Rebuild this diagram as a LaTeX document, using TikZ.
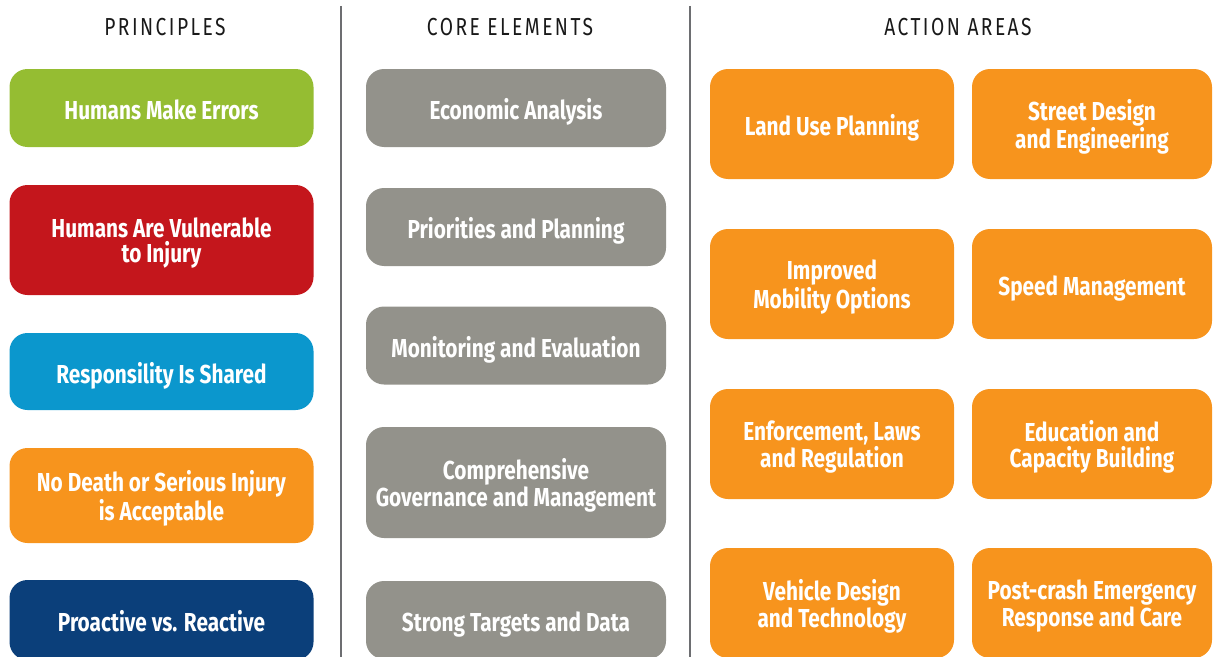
\documentclass[tikz,border=0pt]{standalone}
\usepackage{fontspec}
\setmainfont{Fira Sans}
\newfontfamily\boxfont{Fira Sans}[FakeStretch=0.8]
\newfontfamily\headfont{Fira Sans}[FakeStretch=0.78,LetterSpace=10]
\usepackage{xcolor}

\definecolor{errgreen}{HTML}{95BD32}
\definecolor{injred}{HTML}{C4161C}
\definecolor{sharedblue}{HTML}{0B97CD}
\definecolor{actorange}{HTML}{F7941D}
\definecolor{proactnavy}{HTML}{0B3F7A}
\definecolor{coregray}{HTML}{93928B}
\definecolor{rulegray}{HTML}{6D6E71}

\tikzset{
  tile/.style={rounded corners=0.45cm, inner sep=0pt, align=center, text=white,
    font=\boxfont\bfseries\fontsize{18.5}{18}\selectfont,
    text depth=0pt, execute at begin node={\rule{0pt}{16.6pt}}},
  ptile/.style={tile, minimum width=7.6cm},
  ctile/.style={tile, fill=coregray, minimum width=7.5cm},
  atile/.style={tile, fill=actorange, minimum height=2.75cm},
  colhead/.style={text=black!90, font=\headfont\fontsize{17.5}{18}\selectfont},
  divider/.style={draw=rulegray, line width=0.05cm}
}

\begin{document}
\begin{tikzpicture}
  \clip (0,0) rectangle (30.325,-16.425);

  % Column heads
  \node (hprin) at (4.125,-0.675) [colhead] {PRINCIPLES};
  \node (hcore) at (12.75,-0.675) [colhead] {CORE ELEMENTS};
  \node (hact) at (23.95,-0.675) [colhead] {ACTION AREAS};

  % Dividers
  \draw[divider] (8.525,-0.15) -- (8.525,-16.5);
  \draw[divider] (17.2375,-0.15) -- (17.2375,-16.5);

  % Principles
  \node (p1) at (4.0375,-2.7) [ptile, fill=errgreen, minimum height=1.95cm] {Humans Make Errors};
  \node (p2) at (4.0375,-6.0) [ptile, fill=injred, minimum height=2.75cm] {Humans Are Vulnerable\\to Injury};
  \node (p3) at (4.0375,-9.2875) [ptile, fill=sharedblue, minimum height=1.925cm] {Responsility Is Shared};
  \node (p4) at (4.0375,-12.3875) [ptile, fill=actorange, minimum height=2.375cm] {No Death or Serious Injury\\is Acceptable};
  \node (p5) at (4.0375,-15.5) [ptile, fill=proactnavy, minimum height=2.0cm] {Proactive vs. Reactive};

  % Core elements
  \node (c1) at (12.9,-2.7) [ctile, minimum height=1.95cm] {Economic Analysis};
  \node (c2) at (12.9,-5.675) [ctile, minimum height=1.95cm] {Priorities and Planning};
  \node (c3) at (12.9,-8.6375) [ctile, minimum height=1.95cm] {Monitoring and Evaluation};
  \node (c4) at (12.9,-12.0625) [ctile, minimum height=2.775cm] {Comprehensive\\Governance and Management};
  \node (c5) at (12.9,-15.5) [ctile, minimum height=1.95cm] {Strong Targets and Data};

  % Action areas
  \node (a1) at (20.8,-3.1) [atile, minimum width=6.1cm] {Land Use Planning};
  \node (a2) at (27.3,-3.1) [atile, minimum width=6.0cm] {Street Design\\and Engineering};
  \node (a3) at (20.8,-7.1) [atile, minimum width=6.1cm] {Improved\\Mobility Options};
  \node (a4) at (27.3,-7.1) [atile, minimum width=6.0cm] {Speed Management};
  \node (a5) at (20.8,-11.1) [atile, minimum width=6.1cm] {Enforcement, Laws\\and Regulation};
  \node (a6) at (27.3,-11.1) [atile, minimum width=6.0cm] {Education and\\Capacity Building};
  \node (a7) at (20.8,-15.075) [atile, minimum width=6.1cm] {Vehicle Design\\and Technology};
  \node (a8) at (27.3,-15.075) [atile, minimum width=6.0cm] {Post-crash Emergency\\Response and Care};
\end{tikzpicture}
\end{document}
